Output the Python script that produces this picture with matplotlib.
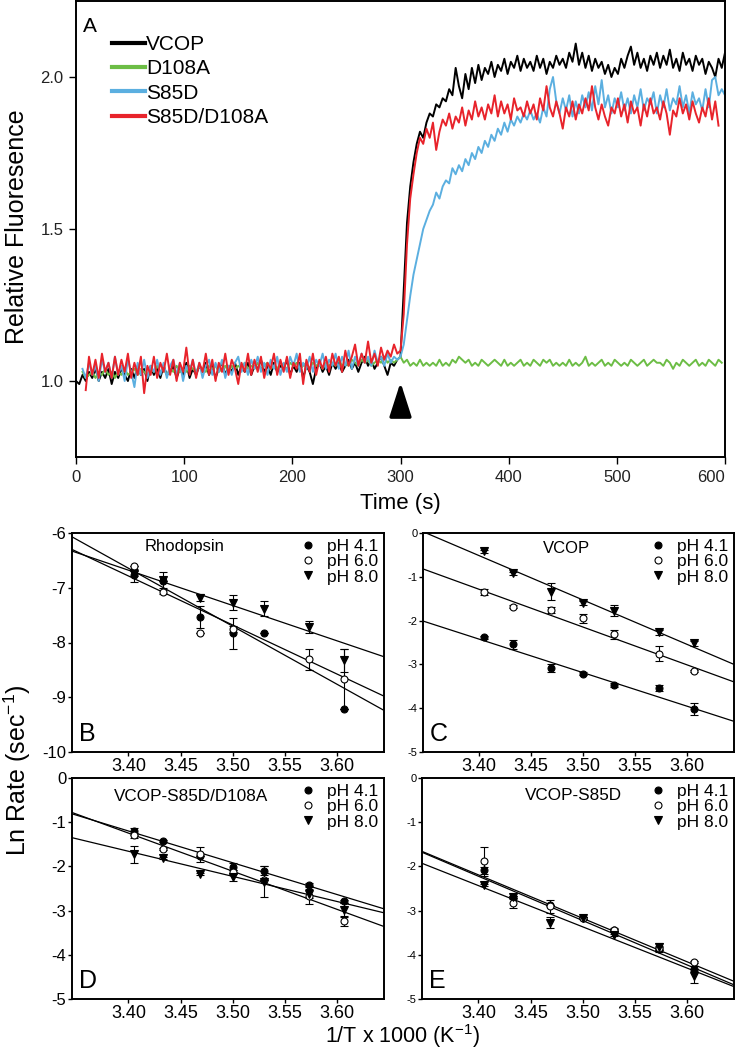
import matplotlib
matplotlib.use('Agg')
import matplotlib.pyplot as plt
import numpy as np

plt.rcParams['font.family'] = ['Liberation Sans', 'DejaVu Sans']
plt.rcParams['mathtext.default'] = 'regular'
plt.rcParams['axes.unicode_minus'] = False

W, H = 736, 1048
nan = np.nan

# panel A: relative fluorescence, sampled every 3 s from 0 to 600 s
time_s = np.arange(0, 601, 3)

vcop = [1.00, 0.99, 1.02, 1.00, 1.03, 1.01, 1.04, 1.00, 1.03, 1.01,
        1.04, 0.99, 1.03, 1.01, 1.04, 1.02, 1.00, 1.04, 1.01, 1.05,
        1.02, 1.04, 1.00, 1.05, 1.02, 1.04, 1.01, 1.05, 1.02, 1.03,
        1.05, 1.01, 1.04, 1.02, 1.06, 1.01, 1.04, 1.02, 1.05, 1.03,
        1.06, 1.02, 1.05, 1.01, 1.04, 1.06, 1.02, 1.05, 1.03, 1.06,
        1.02, 1.05, 1.03, 1.06, 1.02, 1.05, 1.04, 1.07, 1.03, 1.05,
        1.02, 1.06, 1.03, 1.05, 1.04, 1.07, 1.02, 1.05, 1.03, 1.06,
        1.01, 1.05, 1.03, 0.99, 1.04, 1.06, 1.03, 1.05, 1.02, 1.06,
        1.04, 1.06, 1.03, 1.05, 1.07, 1.04, 1.06, 1.03, 1.06, 1.08,
        1.05, 1.07, 1.04, 1.06, 1.08, 1.05, 1.02, 1.06, 1.05, 1.07,
        1.08, 1.30, 1.52, 1.64, 1.72, 1.78, 1.82, 1.80, 1.85, 1.88,
        1.87, 1.91, 1.90, 1.93, 1.92, 1.96, 1.94, 2.03, 1.97, 1.93,
        2.01, 1.96, 2.03, 1.98, 2.04, 1.99, 2.03, 2.01, 2.05, 2.00,
        2.04, 2.02, 2.06, 2.01, 2.05, 2.03, 2.07, 2.02, 2.06, 2.03,
        2.05, 2.02, 2.07, 2.03, 2.06, 2.01, 2.05, 2.03, 2.07, 2.04,
        2.06, 2.03, 2.08, 2.05, 2.11, 2.04, 2.08, 2.03, 2.07, 2.02,
        2.06, 2.03, 2.05, 2.01, 2.04, 2.00, 2.03, 2.01, 2.06, 2.03,
        2.07, 2.10, 2.04, 2.08, 2.03, 2.06, 2.02, 2.07, 2.04, 2.08,
        2.03, 2.07, 2.04, 2.09, 2.03, 2.06, 2.02, 2.08, 2.04, 2.06,
        2.02, 2.07, 2.04, 2.06, 2.01, 2.05, 2.03, 2.00, 2.06, 2.03,
        2.08]

d108a = [nan, nan, 1.03, 1.01, 1.02, 1.03, 1.01, 1.03, 1.02, 1.04,
         1.02, 1.03, 1.01, 1.03, 1.02, 1.04, 1.02, 1.03, 1.04, 1.02,
         1.04, 1.03, 1.02, 1.04, 1.03, 1.05, 1.03, 1.04, 1.02, 1.04,
         1.03, 1.05, 1.03, 1.04, 1.03, 1.05, 1.04, 1.03, 1.05, 1.04,
         1.03, 1.05, 1.04, 1.05, 1.03, 1.04, 1.05, 1.03, 1.05, 1.04,
         1.05, 1.04, 1.06, 1.04, 1.05, 1.04, 1.06, 1.04, 1.05, 1.06,
         1.04, 1.05, 1.04, 1.06, 1.05, 1.04, 1.06, 1.05, 1.06, 1.04,
         1.05, 1.06, 1.04, 1.06, 1.05, 1.06, 1.04, 1.06, 1.05, 1.06,
         1.05, 1.07, 1.05, 1.06, 1.05, 1.07, 1.06, 1.05, 1.07, 1.06,
         1.07, 1.05, 1.06, 1.07, 1.06, 1.08, 1.06, 1.07, 1.06, 1.07,
         1.08, 1.06, 1.07, 1.05, 1.06, 1.05, 1.07, 1.05, 1.06, 1.05,
         1.06, 1.05, 1.07, 1.05, 1.06, 1.05, 1.07, 1.06, 1.08, 1.07,
         1.06, 1.07, 1.05, 1.06, 1.05, 1.07, 1.06, 1.05, 1.06, 1.07,
         1.06, 1.05, 1.07, 1.05, 1.06, 1.05, 1.06, 1.07, 1.05, 1.06,
         1.05, 1.07, 1.06, 1.05, 1.07, 1.06, 1.07, 1.05, 1.06, 1.05,
         1.06, 1.05, 1.07, 1.05, 1.06, 1.05, 1.06, 1.08, 1.05, 1.06,
         1.05, 1.06, 1.07, 1.05, 1.06, 1.05, 1.07, 1.06, 1.05, 1.06,
         1.05, 1.07, 1.06, 1.05, 1.06, 1.07, 1.05, 1.06, 1.07, 1.06,
         1.06, 1.05, 1.07, 1.06, 1.04, 1.06, 1.05, 1.07, 1.06, 1.05,
         1.06, 1.07, 1.05, 1.06, 1.05, 1.07, 1.06, 1.05, 1.07, 1.06,
         nan]

s85d = [nan, nan, 1.04, 1.01, 1.06, 1.02, 1.05, 1.00, 1.07, 1.03,
        1.06, 1.01, 1.08, 1.02, 1.05, 1.00, 1.07, 1.03, 0.98, 1.06,
        1.02, 1.07, 1.01, 1.05, 1.03, 1.07, 1.02, 1.06, 1.01, 1.05,
        1.07, 1.02, 1.06, 1.00, 1.05, 1.03, 1.07, 1.02, 1.06, 1.01,
        1.05, 1.07, 1.02, 1.06, 1.03, 1.07, 1.01, 1.05, 1.02, 1.06,
        1.08, 1.03, 1.06, 1.02, 1.07, 1.04, 1.08, 1.03, 1.06, 1.02,
        1.07, 1.04, 1.08, 1.02, 1.06, 1.03, 1.08, 1.05, 1.09, 1.03,
        1.06, 1.04, 1.08, 1.03, 1.07, 1.05, 1.09, 1.04, 1.07, 1.05,
        1.09, 1.04, 1.08, 1.05, 1.10, 1.04, 1.08, 1.05, 1.09, 1.06,
        1.08, 1.05, 1.10, 1.06, 1.08, 1.05, 1.09, 1.06, 1.08, 1.07,
        1.08, 1.12, 1.20, 1.28, 1.35, 1.40, 1.45, 1.50, 1.53, 1.56,
        1.58, 1.62, 1.60, 1.64, 1.66, 1.65, 1.70, 1.68, 1.71, 1.69,
        1.73, 1.71, 1.75, 1.73, 1.77, 1.75, 1.79, 1.77, 1.81, 1.79,
        1.83, 1.81, 1.85, 1.82, 1.86, 1.84, 1.87, 1.85, 1.88, 1.86,
        1.89, 1.86, 1.88, 1.85, 1.90, 1.87, 1.96, 2.00, 1.92, 1.88,
        1.93, 1.89, 1.94, 1.87, 1.92, 1.88, 1.94, 1.90, 1.95, 1.89,
        1.97, 1.91, 1.99, 1.90, 1.94, 1.88, 1.93, 1.90, 1.95, 1.89,
        1.93, 1.88, 1.94, 1.90, 1.96, 1.89, 1.93, 1.91, 1.95, 1.88,
        1.94, 1.90, 1.96, 1.89, 1.93, 1.91, 1.97, 1.90, 1.94, 1.88,
        1.95, 1.91, 1.93, 1.89, 1.96, 1.90, 1.99, 2.00, 1.94, 1.96,
        1.94]

s85d_d108a = [nan, nan, nan, 0.97, 1.08, 1.02, 1.07, 1.01, 1.09, 1.03,
              1.06, 1.01, 1.08, 1.02, 1.07, 1.03, 1.09, 1.01, 1.06, 1.02,
              1.08, 0.96, 1.05, 1.02, 1.08, 1.01, 1.06, 1.03, 1.09, 1.02,
              1.07, 1.00, 1.06, 1.03, 1.11, 1.02, 1.07, 1.01, 1.06, 1.03,
              1.09, 1.02, 1.07, 1.00, 1.06, 1.03, 1.09, 1.02, 1.07, 1.04,
              0.99, 1.06, 1.03, 1.09, 1.02, 1.07, 1.03, 1.08, 1.01, 1.06,
              1.04, 1.09, 1.02, 1.07, 1.03, 1.08, 1.01, 1.06, 1.04, 1.09,
              0.99, 1.07, 1.03, 1.09, 1.02, 1.07, 1.04, 1.08, 1.03, 1.09,
              1.05, 1.08, 1.03, 1.10, 1.05, 1.08, 1.12, 1.05, 1.09, 1.06,
              1.13, 1.06, 1.09, 1.05, 1.11, 1.07, 1.10, 1.08, 1.12, 1.09,
              1.10, 1.22, 1.45, 1.60, 1.68, 1.75, 1.80, 1.78, 1.83, 1.80,
              1.85, 1.76, 1.82, 1.86, 1.84, 1.88, 1.83, 1.87, 1.85, 1.90,
              1.84, 1.89, 1.86, 1.92, 1.87, 1.90, 1.86, 1.91, 1.88, 1.94,
              1.87, 1.92, 1.88, 1.91, 1.86, 1.93, 1.89, 1.90, 1.87, 1.92,
              1.88, 1.91, 1.86, 1.93, 1.89, 1.97, 1.90, 1.87, 1.92, 1.88,
              1.83, 1.90, 1.87, 1.92, 1.86, 1.91, 1.88, 1.93, 1.89, 1.97,
              1.90, 1.86, 1.91, 1.87, 1.84, 1.90, 1.88, 1.93, 1.87, 1.91,
              1.85, 1.92, 1.88, 1.90, 1.84, 1.91, 1.87, 1.93, 1.88, 1.90,
              1.86, 1.92, 1.88, 1.81, 1.89, 1.87, 1.93, 1.88, 1.91, 1.86,
              1.92, 1.88, 1.85, 1.90, 1.87, 1.93, 1.86, 1.92, 1.84, nan,
              nan]

trace_names = ['VCOP', 'D108A', 'S85D', 'S85D/D108A']
trace_colors = ['black', '#6cbd45', '#5bafe0', '#e8232b']

# panels B-E: Arrhenius plots, x = 1/T x 1000
inv_t = [3.405, 3.433, 3.469, 3.500, 3.530, 3.573, 3.607]
fit_x = [3.346, 3.645]
ph_labels = ['pH 4.1', 'pH 6.0', 'pH 8.0']

rho_ph41 = [-6.77, -6.88, -7.53, -7.83, -7.82, nan, -9.21]
rho_ph41_err = [0.12, 0, 0.2, 0.28, 0, 0, 0]
rho_ph60 = [-6.61, -7.08, -7.82, -7.75, nan, -8.31, -8.66]
rho_ph60_err = [0, 0.03, 0, 0.05, 0, 0.2, 0.55]
rho_ph80 = [-6.74, -6.86, -7.18, -7.27, -7.38, -7.72, -8.32]
rho_ph80_err = [0.05, 0.14, 0.07, 0.14, 0.14, 0.11, 0.21]
rho_fits = [(-6.07, -9.24), (-6.30, -8.98), (-6.33, -8.26)]

vcop_ph41 = [-2.38, -2.54, -3.08, -3.21, -3.47, -3.53, -4.02]
vcop_ph41_err = [0.03, 0.1, 0.1, 0.03, 0.04, 0.07, 0.13]
vcop_ph60 = [-1.35, -1.68, -1.76, -1.95, -2.31, -2.76, -3.15]
vcop_ph60_err = [0.07, 0.03, 0.07, 0.1, 0.1, 0.17, 0.03]
vcop_ph80 = [-0.42, -0.92, -1.34, -1.60, -1.77, -2.27, -2.52]
vcop_ph80_err = [0.04, 0.03, 0.2, 0.04, 0.12, 0.05, 0.06]
vcop_fits = [(0.03, -3.00), (-0.82, -3.40), (-2.01, -4.30)]

dbl_ph41 = [-1.21, -1.42, -1.76, -2.01, -2.10, -2.41, -2.79]
dbl_ph41_err = [0.07, 0.02, 0, 0.08, 0.1, 0.03, 0.03]
dbl_ph60 = [-1.30, -1.61, -1.73, -2.13, -2.30, -2.66, -3.24]
dbl_ph60_err = [0.05, 0.03, 0.17, 0.05, 0, 0.2, 0.1]
dbl_ph80 = [-1.73, -1.81, -2.17, -2.24, -2.35, -2.62, -2.98]
dbl_ph80_err = [0.19, 0.03, 0.03, 0.08, 0.35, 0.1, 0.15]
dbl_fits = [(-0.78, -3.36), (-0.81, -2.96), (-1.35, -3.05)]

s85_ph41 = [-2.09, -2.70, -2.87, -3.17, -3.43, -3.88, -4.31]
s85_ph41_err = [0.08, 0.03, 0, 0.03, 0.03, 0.05, 0.05]
s85_ph60 = [-1.88, -2.83, -2.90, -3.17, -3.45, -3.85, -4.16]
s85_ph60_err = [0.33, 0.12, 0.15, 0.03, 0.04, 0.05, 0.03]
s85_ph80 = [-2.42, -2.69, -3.27, -3.17, -3.55, -3.82, -4.48]
s85_ph80_err = [0.03, 0.03, 0.12, 0.03, 0.03, 0.08, 0.15]
s85_fits = [(-1.66, -4.60), (-1.68, -4.68), (-1.93, -4.72)]


def px_axes(fig, left, top, right, bottom):
	return fig.add_axes([left / W, 1 - bottom / H, (right - left) / W, (bottom - top) / H])


def rate_panel(ax, series, fits, ylim, title, title_xy, title_size, letter, ytick_size):
	for a, b in fits:
		ax.plot(fit_x, [a, b], color='black', lw=0.9, zorder=1)

	styles = [dict(marker='o', mfc='black', ms=5),
	          dict(marker='o', mfc='white', ms=5),
	          dict(marker='v', mfc='black', ms=6)]
	handles = []
	for (y, err), st, lab in zip(series, styles, ph_labels):
		h = ax.errorbar(inv_t, y, yerr=err, ls='none', color='black', mec='black', mew=0.8,
		                elinewidth=0.8, capsize=3, capthick=0.8, zorder=3, label=lab, **st)
		handles.append(h[0])

	ax.legend(handles, ph_labels, loc='upper right', frameon=False, fontsize=12.5,
	          handlelength=1.0, handletextpad=0.6, labelspacing=0.0,
	          borderaxespad=0.25, borderpad=0.1)
	ax.text(title_xy[0], title_xy[1], title, transform=ax.transAxes, ha='center', va='center', fontsize=title_size)
	ax.text(0.05, 0.08, letter, transform=ax.transAxes, ha='center', va='center', fontsize=18)

	ax.set_xlim(fit_x)
	ax.set_ylim(ylim)
	ax.set_xticks([3.40, 3.45, 3.50, 3.55, 3.60])
	ax.set_xticklabels(['%.2f' % v for v in [3.40, 3.45, 3.50, 3.55, 3.60]])
	ax.set_yticks(np.arange(ylim[0], ylim[1] + 1))
	ax.tick_params(axis='x', labelsize=13, direction='out', length=3, width=1, pad=1)
	ax.tick_params(axis='y', labelsize=ytick_size, direction='out', length=3, width=1, pad=1)
	for s in ax.spines.values():
		s.set_linewidth(1.4)


fig = plt.figure(figsize=(W / 100, H / 100), dpi=100)

ax_a = px_axes(fig, 76, 1, 725, 457)
for y, name, col in zip([vcop, d108a, s85d, s85d_d108a], trace_names, trace_colors):
	ax_a.plot(time_s, y, color=col, lw=1.4, label=name)
leg = ax_a.legend(loc='upper left', bbox_to_anchor=(0.055, 0.925), frameon=False, fontsize=15,
                  handlelength=1.6, handletextpad=0.05, labelspacing=0.25, borderaxespad=0, borderpad=0)
for line in leg.get_lines():
	line.set_linewidth(3)
ax_a.annotate('', xy=(300, 1.005), xytext=(300, 0.895),
              arrowprops=dict(arrowstyle='-|>,head_length=1.4,head_width=0.45', color='black', lw=2.5, mutation_scale=15))
ax_a.text(0.022, 0.943, 'A', transform=ax_a.transAxes, ha='center', va='center', fontsize=15)
ax_a.set_xlim(0, 600)
ax_a.set_ylim(0.75, 2.25)
ax_a.set_xticks(range(0, 601, 100))
ax_a.set_yticks([1.0, 1.5, 2.0])
ax_a.set_yticklabels(['1.0', '1.5', '2.0'])
ax_a.tick_params(labelsize=12, direction='out', length=5, width=1, pad=4, labelcolor='#222222')
ax_a.get_xticklabels()[-1].set_ha('right')
for s in ax_a.spines.values():
	s.set_linewidth(1.4)
fig.text(400 / W, 1 - 503 / H, 'Time (s)', ha='center', va='center', fontsize=16)
fig.text(17 / W, 1 - 227 / H, 'Relative Fluoresence', ha='center', va='center', rotation=90, fontsize=18)

ax_b = px_axes(fig, 72, 533, 384, 752)
rate_panel(ax_b, [(rho_ph41, rho_ph41_err), (rho_ph60, rho_ph60_err), (rho_ph80, rho_ph80_err)],
           rho_fits, (-10, -6), 'Rhodopsin', (0.36, 0.94), 12, 'B', 12)
ax_c = px_axes(fig, 423, 533, 734, 752)
rate_panel(ax_c, [(vcop_ph41, vcop_ph41_err), (vcop_ph60, vcop_ph60_err), (vcop_ph80, vcop_ph80_err)],
           vcop_fits, (-5, 0), 'VCOP', (0.46, 0.93), 12, 'C', 8)
ax_d = px_axes(fig, 72, 778, 384, 999)
rate_panel(ax_d, [(dbl_ph41, dbl_ph41_err), (dbl_ph60, dbl_ph60_err), (dbl_ph80, dbl_ph80_err)],
           dbl_fits, (-5, 0), 'VCOP-S85D/D108A', (0.38, 0.915), 12.3, 'D', 12)
ax_e = px_axes(fig, 422, 778, 734, 999)
rate_panel(ax_e, [(s85_ph41, s85_ph41_err), (s85_ph60, s85_ph60_err), (s85_ph80, s85_ph80_err)],
           s85_fits, (-5, 0), 'VCOP-S85D', (0.484, 0.92), 12.3, 'E', 8)

fig.text(17 / W, 1 - 770 / H, 'Ln Rate (sec$^{-1}$)', ha='center', va='center', rotation=90, fontsize=18)
fig.text(402 / W, 1 - 1036 / H, '1/T x 1000 (K$^{-1}$)', ha='center', va='center', fontsize=15.5)

fig.savefig('out.png', dpi=100)
